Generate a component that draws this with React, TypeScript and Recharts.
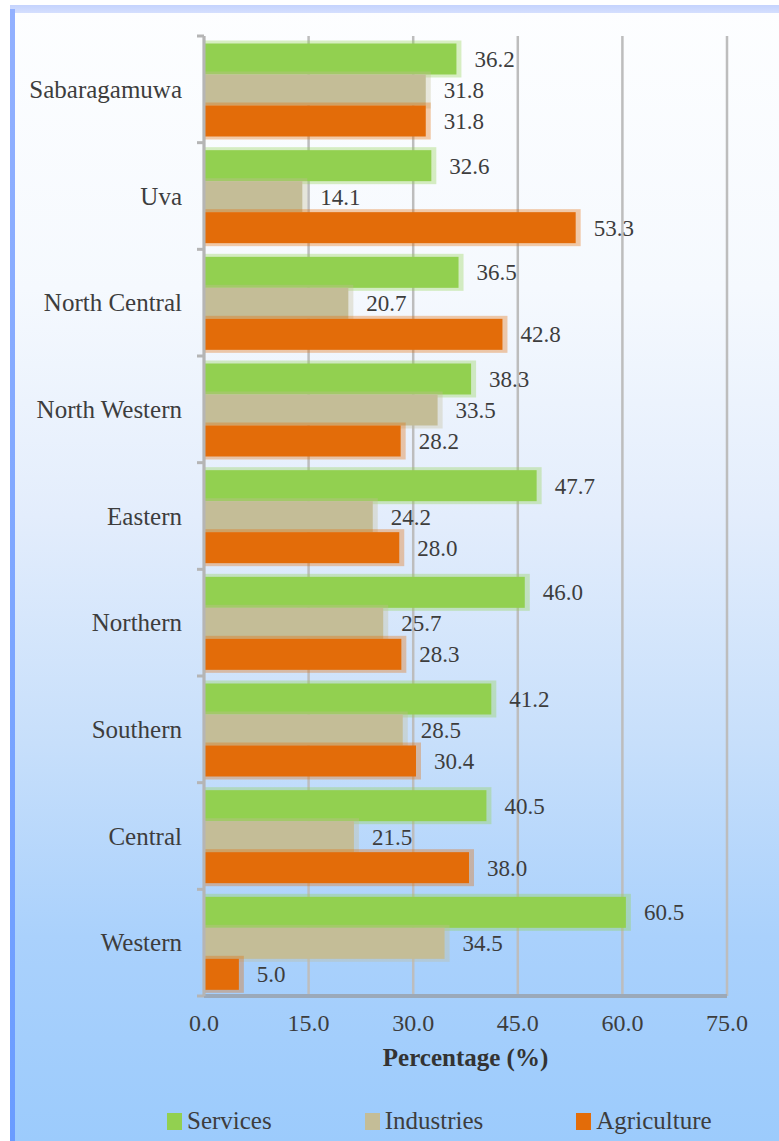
import React from 'react';
import { BarChart, Bar, XAxis, YAxis, CartesianGrid, Legend, LabelList } from 'recharts';

const provinces = ['Sabaragamuwa', 'Uva', 'North Central', 'North Western', 'Eastern', 'Northern', 'Southern', 'Central', 'Western'];
const services = [36.2, 32.6, 36.5, 38.3, 47.7, 46.0, 41.2, 40.5, 60.5];
const industries = [31.8, 14.1, 20.7, 33.5, 24.2, 25.7, 28.5, 21.5, 34.5];
const agriculture = [31.8, 53.3, 42.8, 28.2, 28.0, 28.3, 30.4, 38.0, 5.0];
const seriesNames = ['Services', 'Industries', 'Agriculture'];
const xTicks = [0, 15, 30, 45, 60, 75];

const data = provinces.map((p, i) => ({
  province: p,
  Services: services[i],
  Industries: industries[i],
  Agriculture: agriculture[i],
}));

const W = 779;
const H = 1141;
const MARGIN = { top: 36, right: 52, left: 0, bottom: 65 };
const X_AXIS_H = 80;
const FONT = "'Liberation Serif', 'Times New Roman', 'DejaVu Serif', serif";
const TEXT = '#3d3d3d';
const PLOT_H = H - MARGIN.top - MARGIN.bottom - X_AXIS_H;
const BAND_HALF = PLOT_H / provinces.length / 2;

const GlowBar = (props: any) => {
  const { x, y, width, height, fill } = props;
  if (width == null || width <= 0) return null;
  return (
    <g>
      <rect x={x} y={y - 3} width={width + 5} height={height + 6} fill={fill} opacity={0.35} />
      <rect x={x} y={y} width={width} height={height} fill={fill} />
    </g>
  );
};

const YTick = (props: any) => {
  const { x, y, payload } = props;
  const axisX = x + 22;
  return (
    <g>
      <line x1={axisX - 7} x2={axisX} y1={y - BAND_HALF} y2={y - BAND_HALF} stroke="#b5b5b5" strokeWidth={3} />
      {payload.index === provinces.length - 1 ? (
        <line x1={axisX - 7} x2={axisX} y1={y + BAND_HALF} y2={y + BAND_HALF} stroke="#b5b5b5" strokeWidth={3} />
      ) : null}
      <text x={x} y={y} textAnchor="end" dominantBaseline="central" fontFamily={FONT} fontSize={25} fill={TEXT}>
        {payload.value}
      </text>
    </g>
  );
};

const XTick = (props: any) => {
  const { x, y, payload } = props;
  return (
    <text x={x} y={y} textAnchor="middle" dominantBaseline="central" fontFamily={FONT} fontSize={24} fill={TEXT}>
      {Number(payload.value).toFixed(1)}
    </text>
  );
};

const LegendContent = (props: any) => {
  const items = [...(props.payload || [])].sort(
    (a: any, b: any) => seriesNames.indexOf(a.value) - seriesNames.indexOf(b.value)
  );
  return (
    <div style={{ position: 'relative', height: 0 }}>
      <div
        style={{
          position: 'absolute',
          top: 0,
          left: 167,
          display: 'flex',
          alignItems: 'center',
          gap: 93,
          whiteSpace: 'nowrap',
        }}
      >
        {items.map((entry: any) => (
          <div key={entry.value} style={{ display: 'flex', alignItems: 'center' }}>
            <span style={{ display: 'inline-block', width: 15, height: 17, background: entry.color, marginRight: 5 }} />
            <span style={{ fontFamily: FONT, fontSize: 25, color: TEXT, lineHeight: '26px' }}>{entry.value}</span>
          </div>
        ))}
      </div>
    </div>
  );
};

const fmt = (v: any) => Number(v).toFixed(1);
const labelStyle = { fontFamily: FONT, fontSize: 23, fill: TEXT };

export default function App() {
  return (
    <div style={{ position: 'absolute', left: 0, top: 0, width: W, height: H, background: '#ffffff', overflow: 'hidden' }}>
      <div
        style={{
          position: 'absolute',
          left: 10,
          top: 5,
          right: 0,
          bottom: 0,
          background:
            'linear-gradient(to bottom, #fdfeff 0%, #f5f9fe 25%, #e3edfc 45%, #c7dffb 65%, #aad1fc 82%, #9ccbfc 100%)',
        }}
      />
      <div style={{ position: 'absolute', left: 10, top: 5, right: 0, height: 8, background: 'linear-gradient(to bottom, #c5d3fd, #d5dffe)' }} />
      <div style={{ position: 'absolute', left: 10, top: 9, width: 5, bottom: 0, background: 'linear-gradient(to bottom, #93b1ff, #6a9cff)' }} />
      <div style={{ position: 'absolute', left: 0, top: 0 }}>
        <BarChart
          width={W}
          height={H}
          data={data}
          layout="vertical"
          margin={MARGIN}
          barCategoryGap={7.5}
          barGap={0}
        >
          <CartesianGrid horizontal={false} vertical={true} stroke="#bdbdbd" strokeWidth={2.5} />
          <XAxis
            type="number"
            domain={[0, 75]}
            ticks={xTicks}
            height={X_AXIS_H}
            tickLine={false}
            tickSize={0}
            tickMargin={27}
            tick={<XTick />}
            axisLine={{ stroke: '#9ba9b9', strokeWidth: 4 }}
            label={{
              value: 'Percentage (%)',
              position: 'insideBottom',
              offset: 10,
              style: { fontFamily: FONT, fontSize: 25, fontWeight: 'bold', fill: '#333333' },
            }}
          />
          <YAxis
            type="category"
            dataKey="province"
            width={204}
            tickLine={false}
            tickSize={0}
            tickMargin={22}
            tick={<YTick />}
            interval={0}
            axisLine={{ stroke: '#b5b5b5', strokeWidth: 3 }}
          />
          <Legend content={<LegendContent />} wrapperStyle={{ top: 1108, left: 0, width: W }} />
          <Bar dataKey="Services" fill="#92D050" shape={<GlowBar />} isAnimationActive={false}>
            <LabelList dataKey="Services" position="right" offset={18} formatter={fmt} style={labelStyle} />
          </Bar>
          <Bar dataKey="Industries" fill="#C4BD97" shape={<GlowBar />} isAnimationActive={false}>
            <LabelList dataKey="Industries" position="right" offset={18} formatter={fmt} style={labelStyle} />
          </Bar>
          <Bar dataKey="Agriculture" fill="#E36C09" shape={<GlowBar />} isAnimationActive={false}>
            <LabelList dataKey="Agriculture" position="right" offset={18} formatter={fmt} style={labelStyle} />
          </Bar>
        </BarChart>
      </div>
    </div>
  );
}
